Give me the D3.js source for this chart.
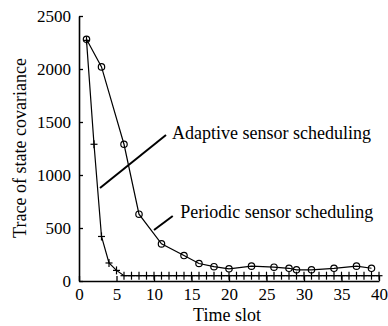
<!DOCTYPE html>
<html><head><meta charset="utf-8">
<script src="https://cdn.jsdelivr.net/npm/d3@7"></script>
<style>body{margin:0;background:#fff;}</style></head>
<body><svg id="c" width="388" height="326"></svg>
<script>
const periodicX = [1,3,6,8,11,14,16,18,20,23,26,28,29,31,34,37,39];
const periodicY = [2280,2020,1290,630,350,240,165,135,115,140,130,120,105,105,120,140,120];
const adaptiveX = [1,2,3,4,5,6,7,8,9,10,11,12,13,14,15,16,17,18,19,20,21,22,23,24,25,26,27,28,29,30,31,32,33,34,35,36,37,38,39,40];
const adaptiveY = [2270,1290,420,170,100,50,50,50,50,50,50,50,50,50,50,50,50,50,50,50,50,50,50,50,50,50,50,50,50,50,50,50,50,50,50,50,50,50,50,50];
const xTicks = [0,5,10,15,20,25,30,35,40];
const yTicks = [0,500,1000,1500,2000,2500];
const xTitle = "Time slot";
const yTitle = "Trace of state covariance";
const labelAdaptive = "Adaptive sensor scheduling";
const labelPeriodic = "Periodic sensor scheduling";

const FONT = "Liberation Serif";
const svg = d3.select("#c");
const x = d3.scaleLinear().domain([0,40]).range([79,379]);
const y = d3.scaleLinear().domain([0,2500]).range([281,16]);
const fmt = d3.format("d");

// axes
const gx = svg.append("g").attr("transform",`translate(0,${y(0)})`)
  .call(d3.axisBottom(x).tickValues(xTicks).tickFormat(fmt).tickSizeInner(-5).tickSizeOuter(0).tickPadding(7));
const gy = svg.append("g").attr("transform",`translate(${x(0)},0)`)
  .call(d3.axisLeft(y).tickValues(yTicks).tickFormat(fmt).tickSizeInner(-4).tickSizeOuter(0).tickPadding(8));
[gx,gy].forEach(g=>{
  g.attr("font-family",FONT).attr("font-size",17);
  g.selectAll("path.domain").attr("stroke","#000").attr("stroke-width",1.6);
  g.selectAll(".tick line").attr("stroke","#000").attr("stroke-width",1.3);
  g.selectAll("text").attr("fill","#000").attr("font-family",FONT).attr("font-size",17);
});

const line = d3.line().x(d=>x(d[0])).y(d=>y(d[1]));
const pData = periodicX.map((v,i)=>[v,periodicY[i]]);
const aData = adaptiveX.map((v,i)=>[v,adaptiveY[i]]);

svg.append("path").datum(aData).attr("d",line).attr("fill","none").attr("stroke","#000").attr("stroke-width",1.2);
svg.append("path").datum(pData).attr("d",line).attr("fill","none").attr("stroke","#000").attr("stroke-width",1.2);

// + markers
const pl = svg.append("g");
aData.forEach(d=>{
  pl.append("line").attr("x1",x(d[0])-3.5).attr("x2",x(d[0])+3.5).attr("y1",y(d[1])).attr("y2",y(d[1])).attr("stroke","#000").attr("stroke-width",1.2);
  pl.append("line").attr("x1",x(d[0])).attr("x2",x(d[0])).attr("y1",y(d[1])-4).attr("y2",y(d[1])+4).attr("stroke","#000").attr("stroke-width",1.2);
});
// circle markers
svg.append("g").selectAll("circle").data(pData).join("circle")
  .attr("cx",d=>x(d[0])).attr("cy",d=>y(d[1])).attr("r",3.2)
  .attr("fill","none").attr("stroke","#000").attr("stroke-width",1.2);

// annotations
svg.append("line").attr("x1",x(2.8)).attr("y1",y(877)).attr("x2",x(11.6)).attr("y2",y(1377))
  .attr("stroke","#000").attr("stroke-width",2);
svg.append("line").attr("x1",x(10)).attr("y1",y(481)).attr("x2",x(12.5)).attr("y2",y(613))
  .attr("stroke","#000").attr("stroke-width",2);
svg.append("text").attr("x",x(12.4)).attr("y",y(1396)).attr("dy","0.35em")
  .attr("font-family",FONT).attr("font-size",18).text(labelAdaptive);
svg.append("text").attr("x",x(13.5)).attr("y",y(651)).attr("dy","0.35em")
  .attr("font-family",FONT).attr("font-size",18).text(labelPeriodic);

// titles
svg.append("text").attr("x",227).attr("y",321).attr("text-anchor","middle")
  .attr("font-family",FONT).attr("font-size",18).text(xTitle);
svg.append("text").attr("transform","translate(26,148) rotate(-90)").attr("text-anchor","middle")
  .attr("font-family",FONT).attr("font-size",18).text(yTitle);
</script></body></html>
